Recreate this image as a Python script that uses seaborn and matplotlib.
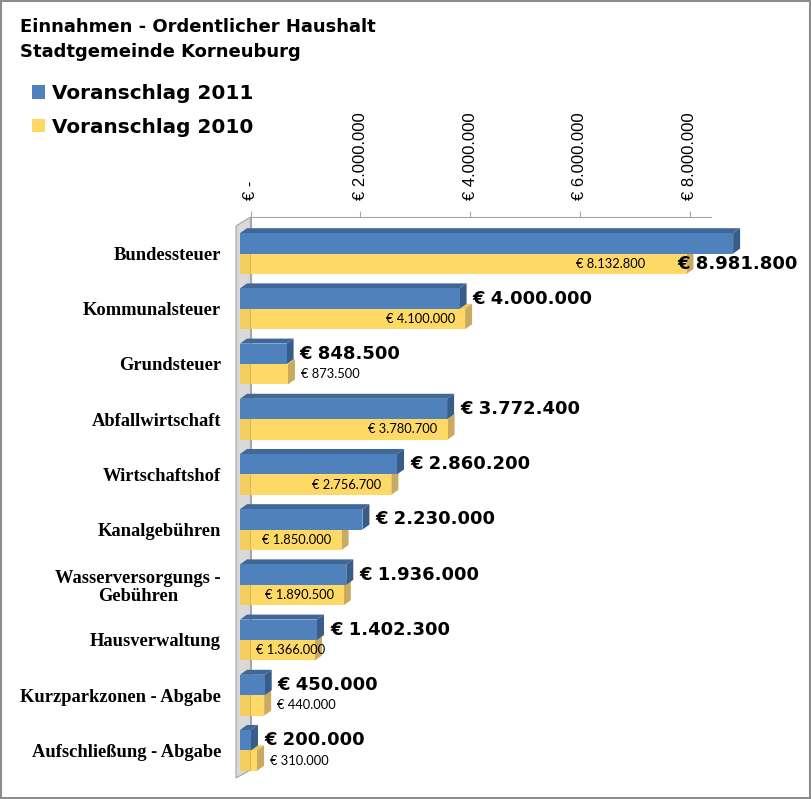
import matplotlib
matplotlib.use("Agg")
import matplotlib.pyplot as plt
import matplotlib.transforms as mtransforms
from matplotlib.patches import Polygon, Patch, Rectangle
import seaborn as sns
import pandas as pd

# ---------------- data ----------------
categories = [
    "Bundessteuer",
    "Kommunalsteuer",
    "Grundsteuer",
    "Abfallwirtschaft",
    "Wirtschaftshof",
    "Kanalgebühren",
    "Wasserversorgungs -\nGebühren",
    "Hausverwaltung",
    "Kurzparkzonen - Abgabe",
    "Aufschließung - Abgabe",
]
series_names = ["Voranschlag 2011", "Voranschlag 2010"]
values_2011 = [8981800, 4000000, 848500, 3772400, 2860200, 2230000, 1936000, 1402300, 450000, 200000]
values_2010 = [8132800, 4100000, 873500, 3780700, 2756700, 1850000, 1890500, 1366000, 440000, 310000]
x_ticks = [0, 2000000, 4000000, 6000000, 8000000]
x_tick_labels = ["€ -", "€ 2.000.000", "€ 4.000.000", "€ 6.000.000", "€ 8.000.000"]
title_lines = ["Einnahmen - Ordentlicher Haushalt", "Stadtgemeinde Korneuburg"]

# ---------------- style ----------------
BLUE, BLUE_TOP, BLUE_SIDE = "#4F81BD", "#3F6898", "#385D8A"
YEL, YEL_TOP, YEL_SIDE = "#FFD966", "#E8C75E", "#C9AB60"
GRID = "#A6A6A6"
WALL = "#D9D9D9"

n = len(categories)
df = pd.DataFrame({
    "Kategorie": categories * 2,
    "Serie": [series_names[0]] * n + [series_names[1]] * n,
    "Wert": values_2011 + values_2010,
})


def fmt(v):
    return "€ " + f"{int(round(v)):,}".replace(",", ".")


W, H = 811, 799
sns.set_style("white")
plt.rcParams["font.family"] = ["DejaVu Sans"]
plt.rcParams["text.color"] = "black"
plt.rcParams["xtick.color"] = "black"
plt.rcParams["ytick.color"] = "black"
fig = plt.figure(figsize=(W / 100, H / 100), dpi=100, facecolor="white")


def fbox(l, t, r, b):
    return [l / W, 1 - b / H, (r - l) / W, (b - t) / H]


XMAX = 460 / 54.9 * 1e6

# back plane (top axis + wall back edge)
ax_back = fig.add_axes(fbox(250.5, 217, 710.5, 770))
ax_back.set_zorder(1)
ax_back.set_facecolor("none")
ax_back.set_xlim(0, XMAX)
ax_back.set_ylim(0, 1)
ax_back.xaxis.tick_top()
ax_back.set_xticks(x_ticks, x_tick_labels, rotation=90,
                   fontfamily="Liberation Sans", fontsize=12)
ax_back.set_yticks([])
ax_back.tick_params(axis="x", top=True, bottom=False, length=4.3, width=0.8,
                    color=GRID, labelcolor="black", pad=7.9)
for s in ["right", "bottom"]:
    ax_back.spines[s].set_visible(False)
for s in ["top", "left"]:
    ax_back.spines[s].set_color(GRID)
    ax_back.spines[s].set_linewidth(0.8)

# side wall
wall = Polygon([(236 / W, 1 - 226 / H), (250.5 / W, 1 - 217 / H),
                (250.5 / W, 1 - 770 / H), (236 / W, 1 - 778 / H)],
               closed=True, transform=fig.transFigure, facecolor=WALL,
               edgecolor=GRID, linewidth=0.8, zorder=1.5)
fig.add_artist(wall)

# front plane with the bars
ax = fig.add_axes(fbox(240, 226, 700, 778))
ax.set_zorder(2)
ax.set_facecolor("none")
sns.barplot(data=df, x="Wert", y="Kategorie", hue="Serie", order=categories,
            hue_order=series_names, palette=[BLUE, YEL], width=0.74, dodge=True,
            legend=False, ax=ax, orient="h", saturation=1, errorbar=None,
            edgecolor="none", linewidth=0)
ax.set_xlim(0, XMAX)
ax.set_ylim(n - 0.5, -0.5)
ax.set_xlabel("")
ax.set_ylabel("")
for s in ["top", "right", "bottom", "left"]:
    ax.spines[s].set_visible(False)
ax.spines["left"].set_position(("outward", 2.2))
ax.set_yticks(range(n))
ax.set_yticklabels(categories, fontfamily="Liberation Serif", fontweight="bold",
                   fontsize=13.3, color="black")
for lab in ax.get_yticklabels():
    lab.set_multialignment("center")
    lab.set_linespacing(1.12)
ax.set_yticks([i - 0.5 for i in range(n + 1)], minor=True)
ax.tick_params(axis="y", which="major", length=0, pad=11.5, labelcolor="black")
ax.tick_params(axis="y", which="minor", length=3, width=0.8, color=GRID)
ax.tick_params(axis="x", which="both", bottom=False, labelbottom=False)

# 3D faces
ident = mtransforms.IdentityTransform()
DX, DY = 7, 5
blue_rects = list(ax.containers[0].patches)
yel_rects = list(ax.containers[1].patches)


def geom(rect):
    x0, y0 = rect.get_x(), rect.get_y()
    w, h = rect.get_width(), rect.get_height()
    p0 = ax.transData.transform((x0, y0))
    p1 = ax.transData.transform((x0 + w, y0 + h))
    return p0[0], p1[0], max(p0[1], p1[1]), min(p0[1], p1[1])


for rects, ctop, cside, zb in [(yel_rects, YEL_TOP, YEL_SIDE, 1.0),
                               (blue_rects, BLUE_TOP, BLUE_SIDE, 3.0)]:
    for rect in rects:
        px0, px1, top, bot = geom(rect)
        topface = [(px0, top), (px1, top), (px1 + DX, top + DY), (px0 + DX, top + DY)]
        side = [(px1, bot), (px1 + DX, bot + DY), (px1 + DX, top + DY), (px1, top)]
        ax.add_patch(Polygon(topface, closed=True, transform=ident, facecolor=ctop,
                             edgecolor="none", clip_on=False, zorder=zb))
        ax.add_patch(Polygon(side, closed=True, transform=ident, facecolor=cside,
                             edgecolor="none", clip_on=False, zorder=zb + 0.1))
        rect.set_zorder(zb + 0.2)
        rect.set_clip_on(False)

# shaded strip of the yellow bars where they cross the wall
for rect in yel_rects:
    px0, px1, top, bot = geom(rect)
    xe = min(px0 + 10.5, px1)
    ax.add_patch(Polygon([(px0, bot), (xe, bot), (xe, top), (px0, top)], closed=True,
                         transform=ident, facecolor="black", alpha=0.05,
                         edgecolor="none", clip_on=False, zorder=1.25))
    if px0 + 10.5 < px1:
        ax.add_patch(Polygon([(xe - 0.5, bot), (xe + 0.5, bot), (xe + 0.5, top), (xe - 0.5, top)],
                             closed=True, transform=ident, facecolor="#B8A060",
                             alpha=0.45, edgecolor="none", clip_on=False, zorder=1.26))

# value labels
renderer = fig.canvas.get_renderer()
for brect, yrect in zip(blue_rects, yel_rects):
    bx0, bx1, btop, bbot = geom(brect)
    yx0, yx1, ytop, ybot = geom(yrect)
    bcy = (btop + bbot) / 2
    ycy = (ytop + ybot) / 2
    tb = ax.text(bx1 + 13, bcy, fmt(brect.get_width()), transform=ident,
                 fontsize=13, fontweight="bold", family="DejaVu Sans",
                 color="black", ha="left", va="center", zorder=6)
    bw = tb.get_window_extent(renderer).width
    blue_left = None
    if bx1 + 13 + bw > W - 12:
        tb.set_position((W - 13, ycy))
        tb.set_ha("right")
        blue_left = W - 13 - bw

    ty = ax.text(0, ycy, fmt(yrect.get_width()), transform=ident,
                 fontsize=9.3, family="Lato", color="black",
                 ha="left", va="center", zorder=6)
    tw = ty.get_window_extent(renderer).width
    if yx1 - yx0 > tw:
        right = max(yx1 - 10, yx0 + 16 + tw)
        if blue_left is not None:
            right = min(right, blue_left - 32)
        ty.set_position((right - tw, ycy))
    else:
        ty.set_position((yx1 + 13, ycy))

# legend
fig.legend(handles=[Patch(facecolor=BLUE, edgecolor="none"),
                    Patch(facecolor=YEL, edgecolor="none")],
           labels=series_names, loc="upper left",
           bbox_to_anchor=(32 / W, 1 - 84 / H), frameon=False,
           prop={"family": "DejaVu Sans", "weight": "bold", "size": 14.4},
           handlelength=0.65, handleheight=0.65, handletextpad=0.35,
           labelspacing=0.73, borderpad=0, borderaxespad=0)

# title
fig.text(20 / W, 1 - 32 / H, title_lines[0], fontsize=13, fontweight="bold",
         family="DejaVu Sans", color="black", va="baseline", ha="left")
fig.text(20 / W, 1 - 57 / H, title_lines[1], fontsize=13, fontweight="bold",
         family="DejaVu Sans", color="black", va="baseline", ha="left")

# outer border
fig.add_artist(Rectangle((0, 0), 1, 1, transform=fig.transFigure, fill=False,
                         edgecolor="#8C8C8C", linewidth=2.9, zorder=10))

fig.savefig("out.png", dpi=100, facecolor="white")
